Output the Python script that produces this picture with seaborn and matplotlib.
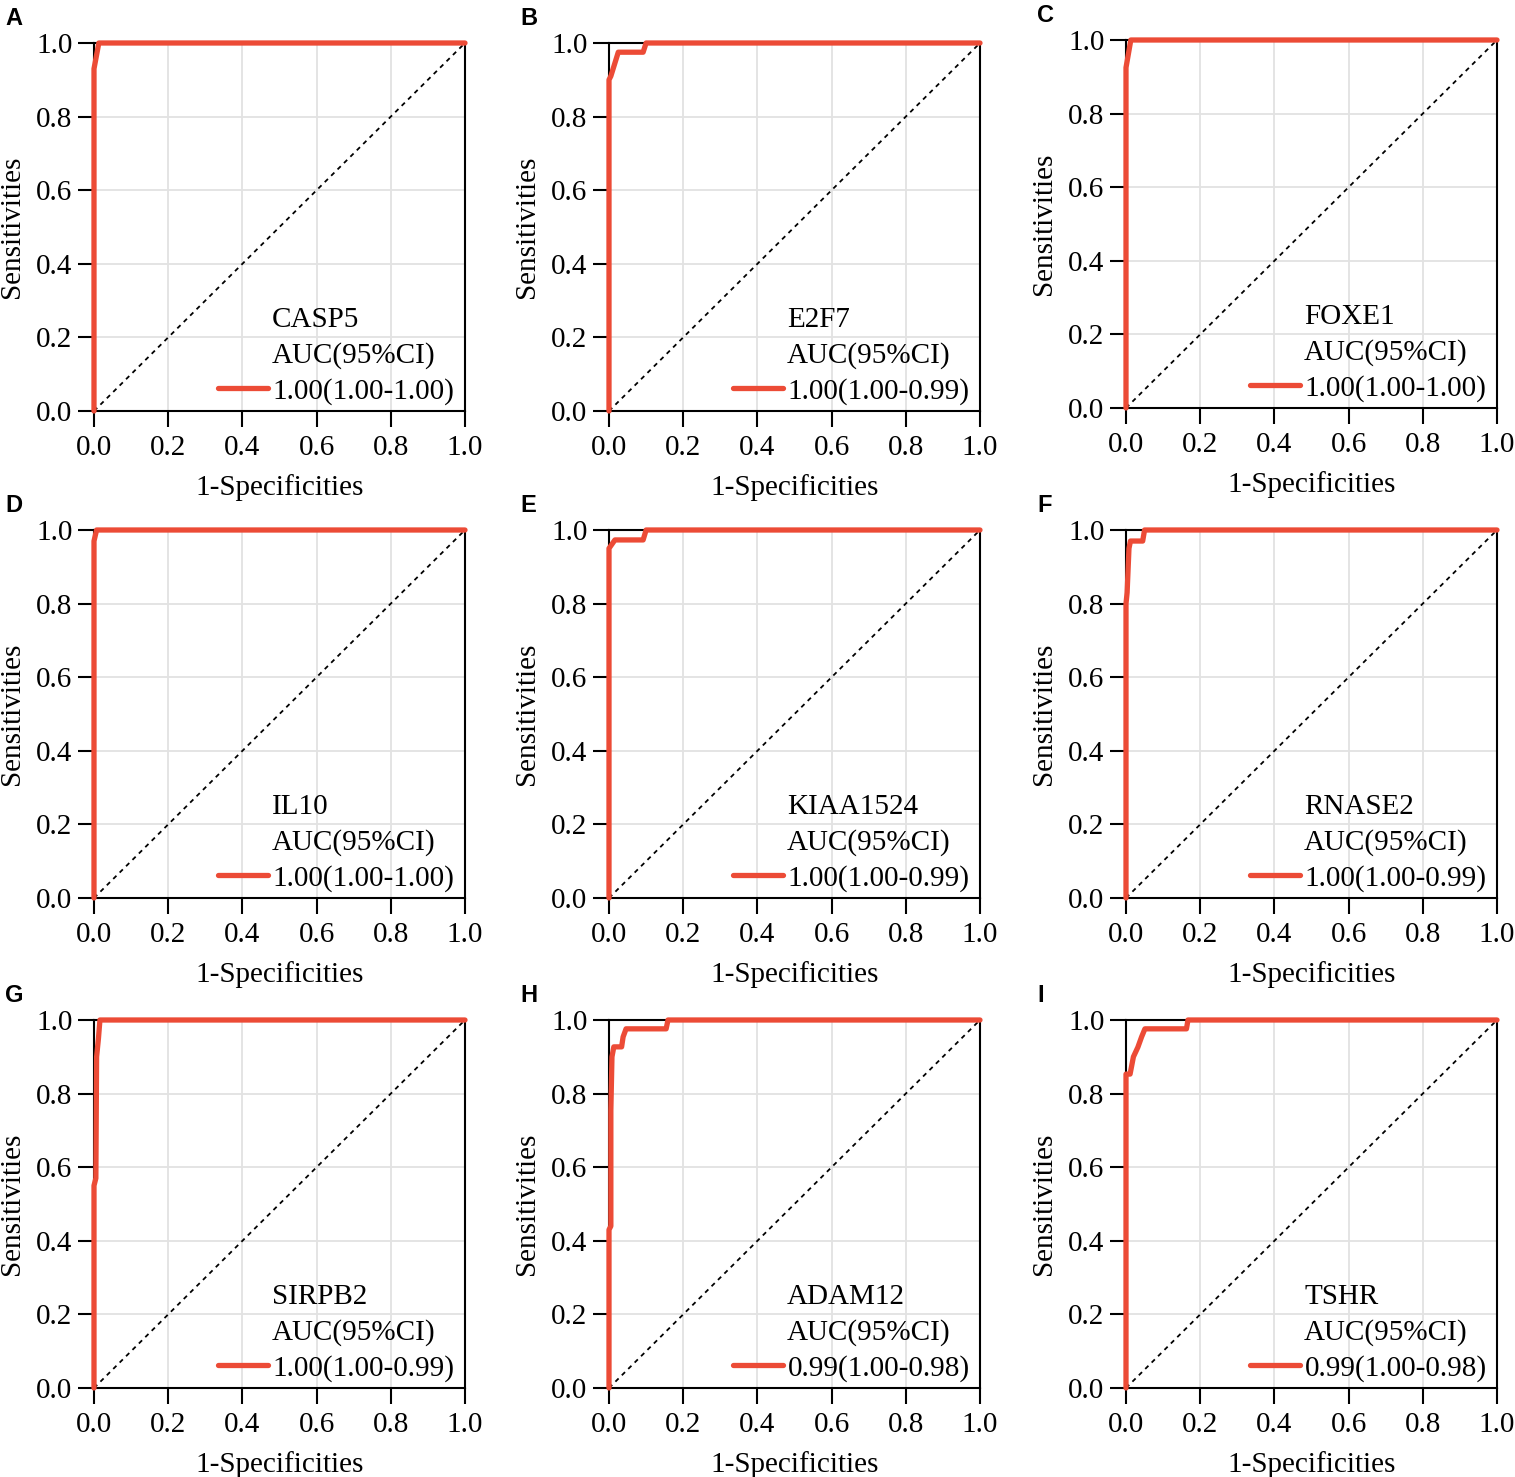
import matplotlib
matplotlib.use("Agg")
import matplotlib.pyplot as plt
import seaborn as sns
import pandas as pd

sns.set_theme(style="ticks")
plt.rcParams['font.family'] = ['Liberation Serif', 'DejaVu Serif']
plt.rcParams['text.color'] = 'black'
plt.rcParams['axes.labelcolor'] = 'black'

panel_letters = ['A', 'B', 'C', 'D', 'E', 'F', 'G', 'H', 'I']
genes = ['CASP5', 'E2F7', 'FOXE1', 'IL10', 'KIAA1524', 'RNASE2', 'SIRPB2', 'ADAM12', 'TSHR']
auc_text = ['1.00(1.00-1.00)', '1.00(1.00-0.99)', '1.00(1.00-1.00)',
            '1.00(1.00-1.00)', '1.00(1.00-0.99)', '1.00(1.00-0.99)',
            '1.00(1.00-0.99)', '0.99(1.00-0.98)', '0.99(1.00-0.98)']

# ROC points (1-specificity, sensitivity)
casp5_fpr = [0, 0, 0.013, 1]
casp5_tpr = [0, 0.93, 1.0, 1.0]
e2f7_fpr = [0, 0, 0.005, 0.025, 0.092, 0.1, 1]
e2f7_tpr = [0, 0.90, 0.91, 0.975, 0.975, 1.0, 1.0]
foxe1_fpr = [0, 0, 0.013, 1]
foxe1_tpr = [0, 0.925, 1.0, 1.0]
il10_fpr = [0, 0, 0.007, 1]
il10_tpr = [0, 0.97, 1.0, 1.0]
kiaa1524_fpr = [0, 0, 0.016, 0.092, 0.1, 1]
kiaa1524_tpr = [0, 0.95, 0.973, 0.973, 1.0, 1.0]
rnase2_fpr = [0, 0, 0.003, 0.008, 0.012, 0.045, 0.05, 1]
rnase2_tpr = [0, 0.80, 0.83, 0.95, 0.97, 0.97, 1.0, 1.0]
sirpb2_fpr = [0, 0, 0.005, 0.007, 0.012, 0.016, 1]
sirpb2_tpr = [0, 0.55, 0.57, 0.90, 0.95, 1.0, 1.0]
adam12_fpr = [0, 0, 0.005, 0.005, 0.008, 0.013, 0.034, 0.038, 0.046, 0.154, 0.159, 1]
adam12_tpr = [0, 0.43, 0.44, 0.755, 0.90, 0.927, 0.927, 0.954, 0.976, 0.976, 1.0, 1.0]
tshr_fpr = [0, 0, 0.011, 0.02, 0.032, 0.042, 0.051, 0.163, 0.167, 1]
tshr_tpr = [0, 0.853, 0.853, 0.90, 0.926, 0.954, 0.976, 0.976, 1.0, 1.0]

all_fpr = [casp5_fpr, e2f7_fpr, foxe1_fpr, il10_fpr, kiaa1524_fpr,
           rnase2_fpr, sirpb2_fpr, adam12_fpr, tshr_fpr]
all_tpr = [casp5_tpr, e2f7_tpr, foxe1_tpr, il10_tpr, kiaa1524_tpr,
           rnase2_tpr, sirpb2_tpr, adam12_tpr, tshr_tpr]

ticks = [0.0, 0.2, 0.4, 0.6, 0.8, 1.0]
red = '#EC4B36'
W, H = 1515, 1477

fig = plt.figure(figsize=(W / 100, H / 100), dpi=100)

col_left = [94, 609, 1126]
row_top = [[43, 43, 40], [530, 530, 530], [1020, 1020, 1020]]
aw, ah = 371, 368

for i in range(9):
    r, c = divmod(i, 3)
    left = col_left[c] / W
    bottom = (H - row_top[r][c] - ah) / H
    ax = fig.add_axes([left, bottom, aw / W, ah / H])

    ax.grid(True, color='#E2E2E2', lw=1.3)
    ax.set_axisbelow(True)
    ax.plot([0, 1], [0, 1], color='black', lw=1.3, ls=(0, (2.5, 2.5)), zorder=1.5)

    df = pd.DataFrame({'fpr': all_fpr[i], 'tpr': all_tpr[i]})
    sns.lineplot(data=df, x='fpr', y='tpr', sort=False, estimator=None,
                 color=red, lw=3.8, ax=ax, zorder=3, clip_on=False,
                 label=auc_text[i])

    ax.set_xlim(0, 1)
    ax.set_ylim(0, 1)
    ax.set_xticks(ticks)
    ax.set_yticks(ticks)
    ax.set_xticklabels([f'{t:.1f}' for t in ticks])
    ax.set_yticklabels([f'{t:.1f}' for t in ticks])
    ax.tick_params(direction='out', length=11.5, width=1.5, labelsize=21,
                   color='black', labelcolor='black')
    ax.tick_params(axis='x', pad=6)
    ax.tick_params(axis='y', pad=4)
    for s in ax.spines.values():
        s.set_linewidth(1.5)
        s.set_color('black')
        s.set_visible(True)
    ax.set_xlabel('1-Specificities', fontsize=21, labelpad=9, color='black')
    ax.set_ylabel('Sensitivities', fontsize=21, labelpad=8, color='black')

    ax.text(0.48, 0.248, genes[i], transform=ax.transAxes, fontsize=21,
            ha='left', va='center', color='black')
    ax.text(0.48, 0.150, 'AUC(95%CI)', transform=ax.transAxes, fontsize=21,
            ha='left', va='center', color='black')
    ax.legend(loc='center left', bbox_to_anchor=(0.335, 0.054), frameon=False,
              fontsize=21, handlelength=1.7, handletextpad=0.17,
              borderpad=0, borderaxespad=0, labelcolor='black')

    ax.text(-0.24, 1.098, panel_letters[i], transform=ax.transAxes,
            fontsize=17, fontweight='bold', family='Liberation Sans',
            ha='left', va='top', color='black')

fig.savefig('out.png', dpi=100)
